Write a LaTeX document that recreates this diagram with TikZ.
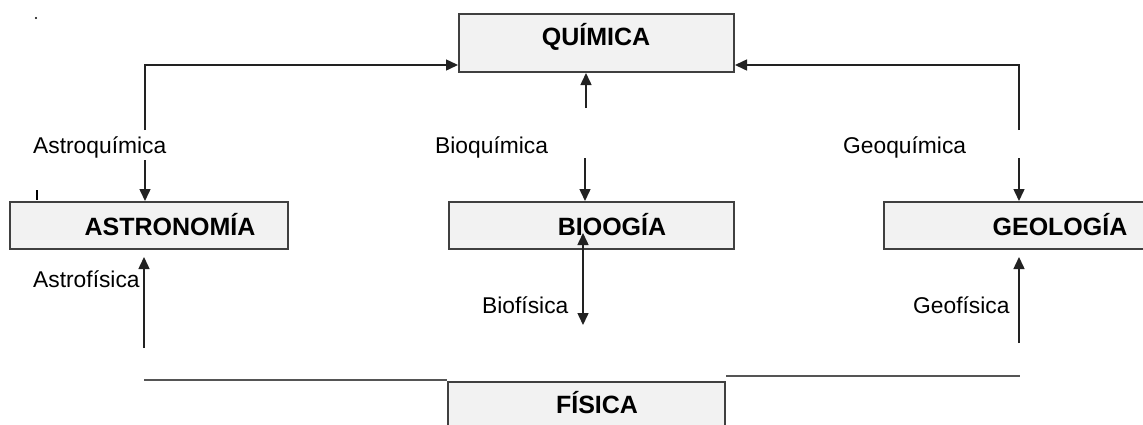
\documentclass[tikz,border=0pt]{standalone}
\usepackage{fontspec}
\setmainfont{Liberation Sans}
\usetikzlibrary{arrows.meta}
\definecolor{boxfill}{HTML}{F2F2F2}
\definecolor{boxline}{HTML}{404040}
\definecolor{connc}{HTML}{222222}
\definecolor{flatc}{HTML}{555555}
\begin{document}
\begin{tikzpicture}[x=1pt,y=-1pt,
  box/.style={draw=boxline, fill=boxfill, line width=2pt, inner sep=0pt, anchor=north west},
  title/.style={font=\fontsize{25}{28}\selectfont\bfseries, anchor=base, inner sep=0pt},
  lab/.style={font=\fontsize{22.8}{26}\selectfont, anchor=base west, inner sep=0pt},
  tip/.style={Triangle[length=12pt,width=11pt]},
  conn/.style={draw=connc, line width=1.5pt, -{Triangle[length=12pt,width=11pt]}},
  flat/.style={draw=flatc, line width=1.7pt}]
\useasboundingbox (0,0) rectangle (1143,424);
% boxes
\node[box, minimum width=275pt, minimum height=58pt] (qui) at (458,13) {};
\node[box, minimum width=278pt, minimum height=47pt] (ast) at (9,201) {};
\node[box, minimum width=285pt, minimum height=47pt] (bio) at (448,201) {};
\node[box, minimum width=265pt, minimum height=47pt] (geo) at (883,201) {};
\node[box, minimum width=277pt, minimum height=50pt] (fis) at (447,381) {};
% titles
\node[title] (tqui) at (596,45) {QUÍMICA};
\node[title] (tast) at (170,235) {ASTRONOMÍA};
\node[title] (tbio) at (612,235) {BIOOGÍA};
\node[title] (tgeo) at (1060,235) {GEOLOGÍA};
\node[title] (tfis) at (597,413) {FÍSICA};
% labels
\node[lab] (lastq) at (33,153) {Astroquímica};
\node[lab] (lastf) at (33,287) {Astrofísica};
\node[lab] (lbioq) at (435,153) {Bioquímica};
\node[lab] (lbiof) at (482,313) {Biofísica};
\node[lab] (lgeoq) at (843,153) {Geoquímica};
\node[lab] (lgeof) at (913,313) {Geofísica};
% coordinates
\coordinate (a0) at (145,65);
\coordinate (a1) at (145,130);
\coordinate (a2) at (145,160);
\coordinate (a3) at (144,348);
\coordinate (b1) at (586,108);
\coordinate (b2) at (585,158);
\coordinate (b3) at (583,233);
\coordinate (b4) at (583,325);
\coordinate (g0) at (1019,65);
\coordinate (g1) at (1019,130);
\coordinate (g2) at (1019,158);
\coordinate (g3) at (1019,343);
\coordinate (f1) at (144,380);
\coordinate (f2) at (1020,376);
% connectors
\draw[conn] (a1) -- (a0) -- (a0 -| qui.west);
\draw[conn] (a2) -- (a2 |- ast.north);
\draw[conn, shorten >=7pt] (a3) -- (a3 |- ast.south);
\draw[conn] (b1) -- (b1 |- qui.south);
\draw[conn] (b2) -- (b2 |- bio.north);
\draw[conn, {Triangle[length=12pt,width=11pt]}-{Triangle[length=12pt,width=11pt]}] (b3) -- (b4);
\draw[conn] (g1) -- (g0) -- (g0 -| qui.east);
\draw[conn] (g2) -- (g2 |- geo.north);
\draw[conn, shorten >=7pt] (g3) -- (g3 |- geo.south);
\draw[flat] (f1) -- (f1 -| fis.west);
\draw[flat] (fis.east |- f2) -- (f2);
% small marks
\fill[black] (36,18) circle (1.2pt);
\draw[black, line width=2.5pt] (37,190) -- (37,200);
\end{tikzpicture}
\end{document}
